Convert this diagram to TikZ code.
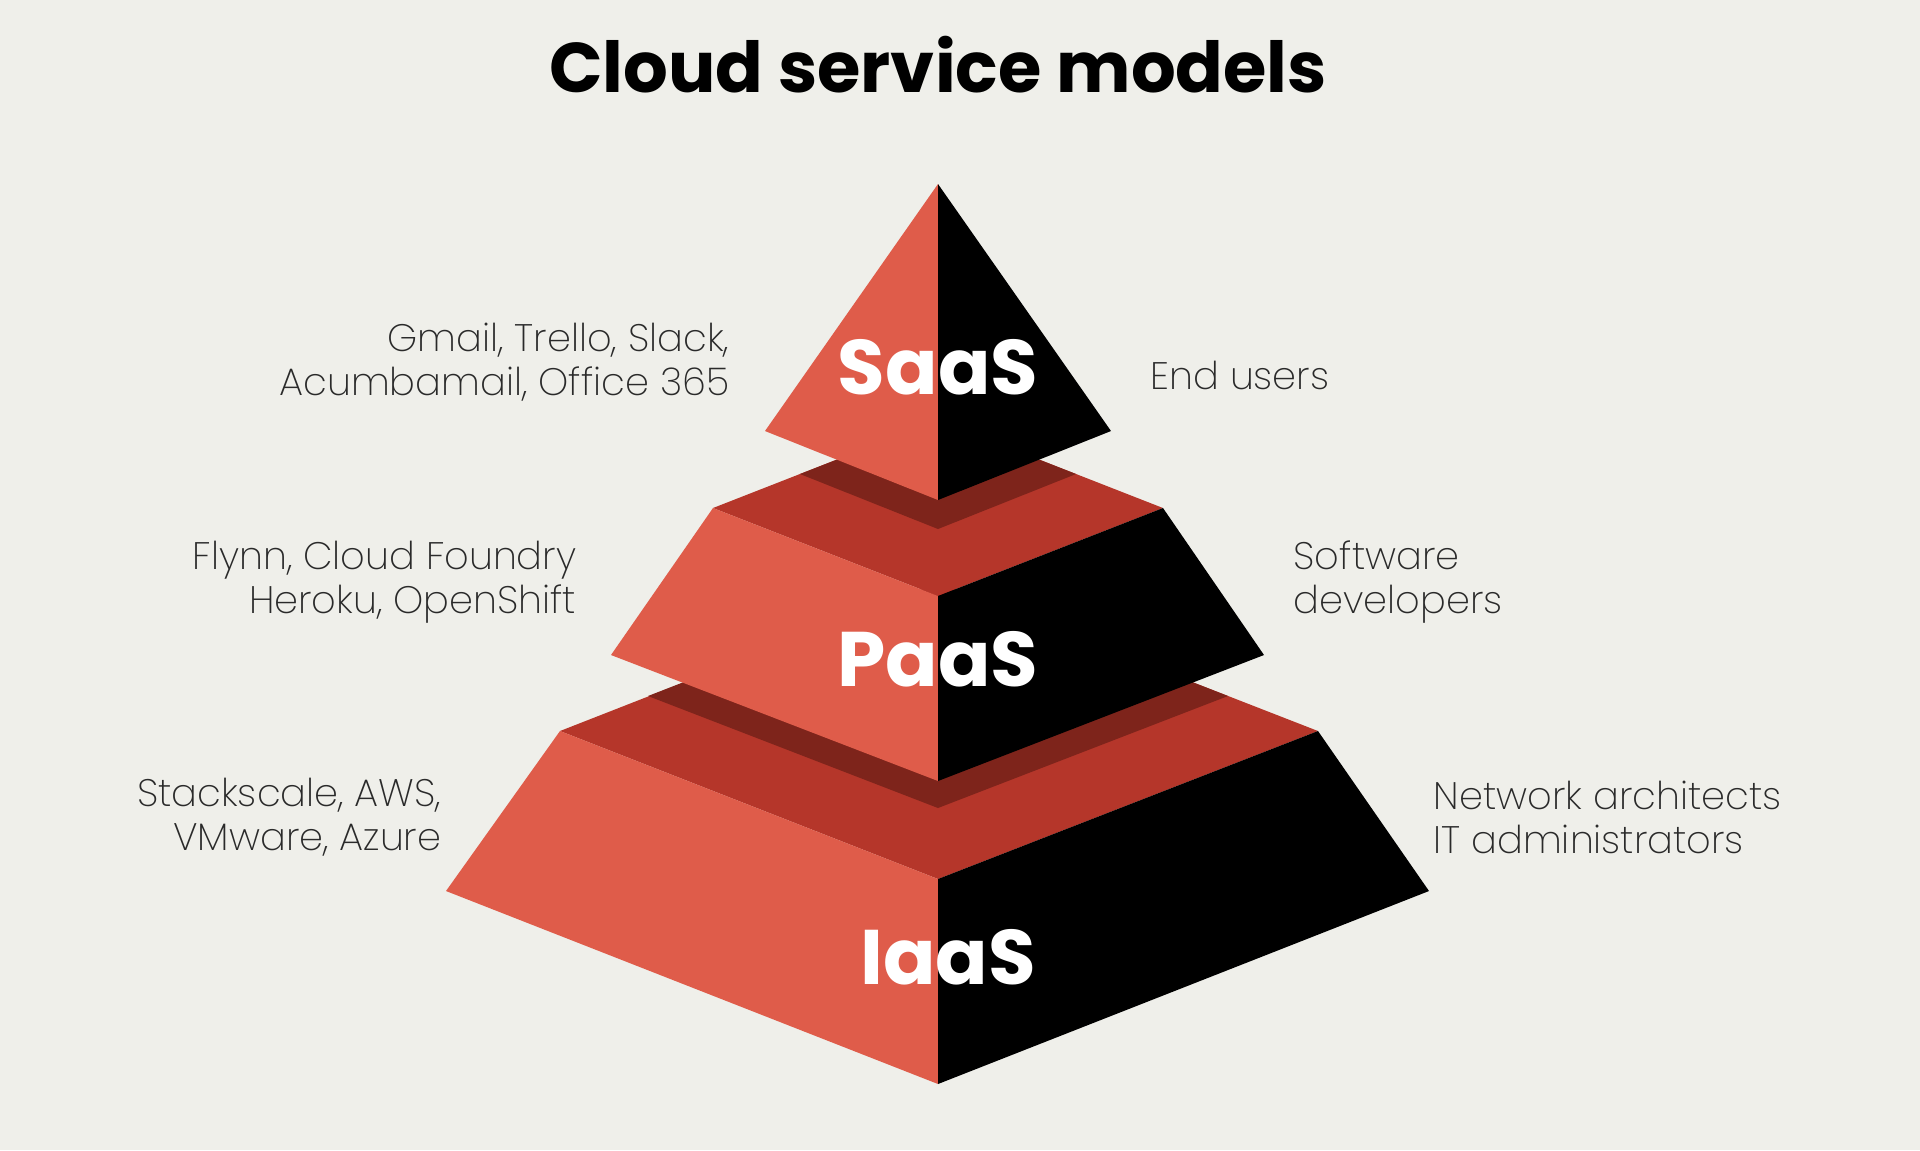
\documentclass[tikz,border=0pt]{standalone}
\usepackage{fontspec}
\setmainfont{Poppins}
\IfFontExistsTF{Poppins ExtraLight}{\newfontfamily\thinfont{Poppins ExtraLight}}{%
  \IfFontExistsTF{Poppins Light}{\newfontfamily\thinfont{Poppins Light}}{\newfontfamily\thinfont{Poppins}}}
\definecolor{bgcol}{HTML}{EFEFEA}
\definecolor{redlight}{HTML}{DF5C4A}
\definecolor{redmid}{HTML}{B5362A}
\definecolor{reddark}{HTML}{7E241B}
\definecolor{txtgray}{HTML}{2A2A2A}
\tikzset{every node/.style={inner sep=0pt},
  tier/.style={font=\bfseries\fontsize{22}{22}\selectfont,text=white},
  leftlab/.style={font=\thinfont\fontsize{10.9}{12.5}\selectfont,text=txtgray,align=right,anchor=east},
  rightlab/.style={font=\thinfont\fontsize{10.9}{12.5}\selectfont,text=txtgray,align=left,anchor=west}}

\begin{document}
\begin{tikzpicture}[x=0.01cm,y=-0.01cm]
    \fill[bgcol] (0,0) rectangle (1920,1150);
    \useasboundingbox (0,0) rectangle (1920,1150);
    \node[font=\bfseries\fontsize{20}{20}\selectfont] (title) at (938,65) {Cloud service models};
    % bottom tier
    \fill[redmid] (560,731) -- (938,583) -- (1318,731) -- (938,879) -- cycle;
    \fill[reddark] (648,696) -- (938,808) -- (1228,696) -- (938,583) -- cycle;
    \fill[redlight] (560,731) -- (938,879) -- (938,1084) -- (446,891) -- cycle;
    \fill[black] (938,879) -- (1318,731) -- (1429,891) -- (938,1084) -- cycle;
    % middle tier
    \fill[redmid] (713,508) -- (938,420) -- (1163,508) -- (938,596) -- cycle;
    \fill[reddark] (800,474) -- (938,529) -- (1076,474) -- (938,420) -- cycle;
    \fill[redlight] (713,508) -- (938,596) -- (938,781) -- (611,655) -- cycle;
    \fill[black] (938,596) -- (1163,508) -- (1264,655) -- (938,781) -- cycle;
    % top tier
    \fill[redlight] (938,184) -- (765,431) -- (938,500) -- cycle;
    \fill[black] (938,184) -- (1111,431) -- (938,500) -- cycle;
    \foreach \n/\x/\y in {SaaS/938/367,PaaS/938/659,IaaS/948/957}{
        \node[tier] (\n) at (\x,\y) {\n};
    }
    \foreach \n/\x/\y/\t in {saasuse/730/362/{Gmail, Trello, Slack,\\Acumbamail, Office 365},
                             paasuse/577/582/{Flynn, Cloud Foundry\\Heroku, OpenShift},
                             iaasuse/442/817/{Stackscale, AWS,\\VMware, Azure}}{
        \node[leftlab] (\n) at (\x,\y) {\t};
    }
    \foreach \n/\x/\y/\t in {saaswho/1150/375/{End users},
                             paaswho/1293/582/{Software\\developers},
                             iaaswho/1433/817/{Network architects\\IT administrators}}{
        \node[rightlab] (\n) at (\x,\y) {\t};
    }
\end{tikzpicture}
\end{document}
